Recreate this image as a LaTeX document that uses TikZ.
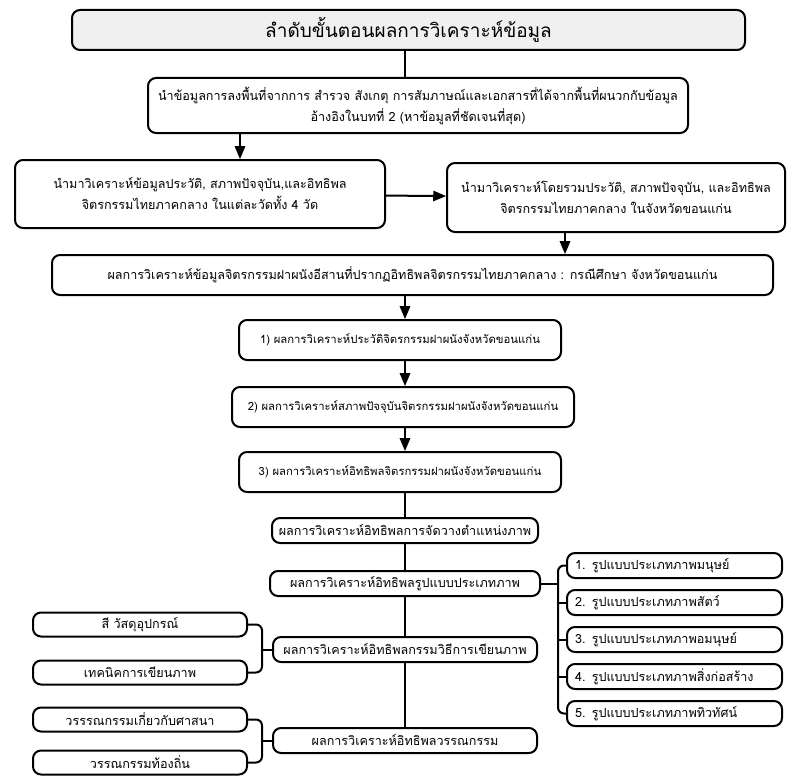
\documentclass[tikz,border=0pt]{standalone}
\usepackage{fontspec}
\newfontfamily\thaifont[Script=Thai]{Loma}
\usepackage{tikz}
\usetikzlibrary{positioning,arrows}

\tikzset{
  box/.style={draw,line width=2pt,rounded corners=8pt,align=center,inner sep=2pt,
    font=\thaifont\fontsize{12.6}{21}\selectfont},
  subbox/.style={box,minimum height=25pt},
  conn/.style={line width=2pt},
}

\begin{document}
\begin{tikzpicture}[x=1pt,y=-1pt,>=triangle 45,node distance=10pt]
	\useasboundingbox (0,0) rectangle (788,776);
	% main column
	\node[box,fill=gray!12,minimum width=673pt,minimum height=40pt,
	      font=\thaifont\fontsize{19}{22}\selectfont] (title) at (408.5,30) {ลำดับขั้นตอนผลการวิเคราะห์ข้อมูล};
	\node[box,minimum width=540pt,minimum height=55pt] (collect) at (418,105.5)
		{นำข้อมูลการลงพื้นที่จากการ สำรวจ สังเกตุ การสัมภาษณ์และเอกสารที่ได้จากพื้นที่ผนวกกับข้อมูล\\อ้างอิงในบทที่ 2 (หาข้อมูลที่ชัดเจนที่สุด)};
	\node[box,minimum width=370pt,minimum height=68pt] (each) at (200,194)
		{นำมาวิเคราะห์ข้อมูลประวัติ, สภาพปัจจุบัน,และอิทธิพล\\จิตรกรรมไทยภาคกลาง ในแต่ละวัดทั้ง 4 วัด};
	\node[box,minimum width=338pt,minimum height=69pt] (whole) at (616,197.5)
		{นำมาวิเคราะห์โดยรวมประวัติ, สภาพปัจจุบัน, และอิทธิพล\\จิตรกรรมไทยภาคกลาง ในจังหวัดขอนแก่น};
	\node[box,minimum width=721pt,minimum height=40pt] (result) at (412.5,275)
		{ผลการวิเคราะห์ข้อมูลจิตรกรรมฝาผนังอีสานที่ปรากฏอิทธิพลจิตรกรรมไทยภาคกลาง : กรณีศึกษา จังหวัดขอนแก่น};
	\node[box,minimum width=322pt,minimum height=40pt,font=\thaifont\fontsize{11.3}{14}\selectfont] (hist) at (400,340)
		{1) ผลการวิเคราะห์ประวัติจิตรกรรมฝาผนังจังหวัดขอนแก่น};
	\node[box,minimum width=342pt,minimum height=40pt,font=\thaifont\fontsize{11.3}{14}\selectfont] (state) at (403,407)
		{2) ผลการวิเคราะห์สภาพปัจจุบันจิตรกรรมฝาผนังจังหวัดขอนแก่น};
	\node[box,minimum width=322pt,minimum height=40pt,font=\thaifont\fontsize{11.3}{14}\selectfont] (infl) at (400,472)
		{3) ผลการวิเคราะห์อิทธิพลจิตรกรรมฝาผนังจังหวัดขอนแก่น};
	\node[subbox,minimum width=266pt] (place) at (405,530.5) {ผลการวิเคราะห์อิทธิพลการจัดวางตำแหน่งภาพ};
	\node[subbox,minimum width=270pt] (kind) at (405,583.5) {ผลการวิเคราะห์อิทธิพลรูปแบบประเภทภาพ};
	\node[subbox,minimum width=264pt] (method) at (405,649.5) {ผลการวิเคราะห์อิทธิพลกรรมวิธีการเขียนภาพ};
	\node[subbox,minimum width=264pt] (lit) at (405,740.5) {ผลการวิเคราะห์อิทธิพลวรรณกรรม};

	% right column
	\node[subbox,text width=199pt,align=left,inner xsep=8pt] (k1) at (674.5,565.5) {1. รูปแบบประเภทภาพมนุษย์};
	\node[subbox,text width=199pt,align=left,inner xsep=8pt] (k2) [below=of k1] {2. รูปแบบประเภทภาพสัตว์};
	\node[subbox,text width=199pt,align=left,inner xsep=8pt] (k3) [below=of k2] {3. รูปแบบประเภทภาพอมนุษย์};
	\node[subbox,text width=199pt,align=left,inner xsep=8pt] (k4) [below=of k3] {4. รูปแบบประเภทภาพสิ่งก่อสร้าง};
	\node[subbox,text width=199pt,align=left,inner xsep=8pt] (k5) [below=of k4] {5. รูปแบบประเภทภาพทิวทัศน์};

	% left column
	\node[subbox,minimum width=214pt,minimum height=24pt] (m1) at (140,624.5) {สี วัสดุอุปกรณ์};
	\node[subbox,minimum width=214pt,minimum height=24pt] (m2) [below=22pt of m1] {เทคนิคการเขียนภาพ};
	\node[subbox,minimum width=214pt,minimum height=24pt] (w1) [below=21pt of m2] {วรรรณกรรมเกี่ยวกับศาสนา};
	\node[subbox,minimum width=214pt,minimum height=24pt] (w2) [below=17pt of w1] {วรรณกรรมท้องถิ่น};

	\coordinate (kb) at (558,583.5);
	\coordinate (mb) at (262,649.5);
	\coordinate (wb) at (262,740.5);

	\draw[conn] (title.south -| 405,0) -- (collect.north -| 405,0);
	\draw[conn,->] (collect.south -| 240,0) -- (each.north -| 240,0);
	\draw[conn,->] (each) -- (whole);
	\draw[conn,->] (whole.south -| 565,0) -- (result.north -| 565,0);
	\draw[conn,->] (result.south -| 405,0) -- (hist.north -| 405,0);
	\draw[conn,->] (hist.south -| 405,0) -- (state.north -| 405,0);
	\draw[conn,->] (state.south -| 405,0) -- (infl.north -| 405,0);
	\draw[conn] (infl.south -| 405,0) -- (place);
	\draw[conn] (place) -- (kind);
	\draw[conn] (kind) -- (method);
	\draw[conn] (method) -- (lit);

	\draw[conn] (kind) -- (kb);
	\draw[conn,rounded corners=6pt] (k1.west) -| (kb) |- (k5.west);
	\draw[conn] (k2.west) -- (k2.west -| kb);
	\draw[conn] (k3.west) -- (k3.west -| kb);
	\draw[conn] (k4.west) -- (k4.west -| kb);

	\draw[conn,rounded corners=6pt] (m1.east) -| (mb) |- (m2.east);
	\draw[conn] (mb) -- (method);
	\draw[conn,rounded corners=6pt] (w1.east) -| (wb) |- (w2.east);
	\draw[conn] (wb) -- (lit);
\end{tikzpicture}
\end{document}
